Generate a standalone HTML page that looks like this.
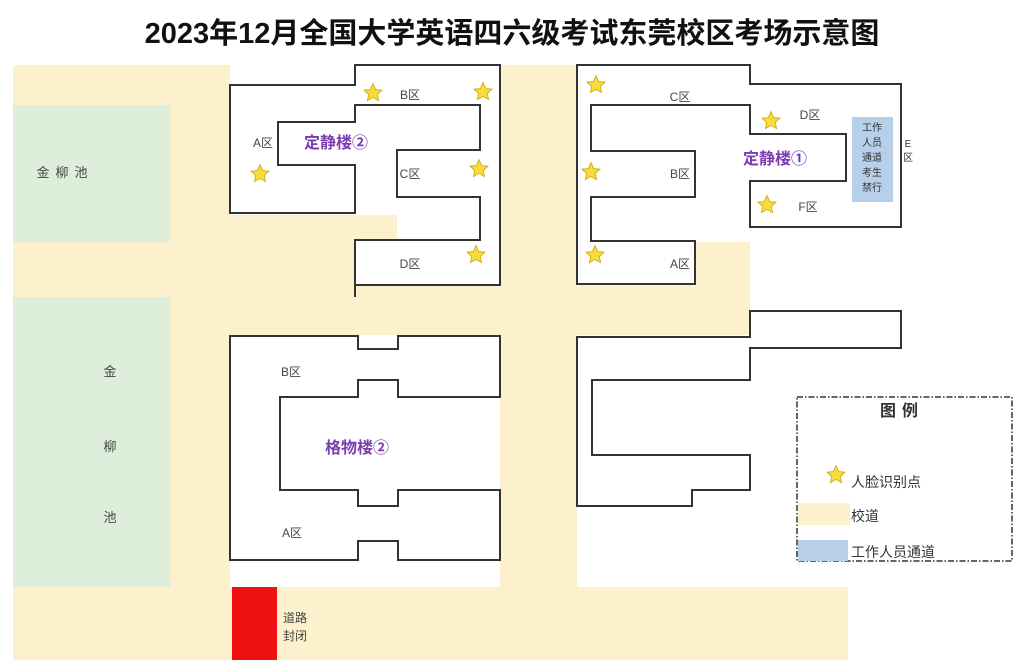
<!DOCTYPE html>
<html><head><meta charset="utf-8"><style>
html,body{margin:0;padding:0;background:#fff;}
svg{display:block;}
text{font-family:"Liberation Sans","Noto Sans CJK SC",sans-serif;}
</style></head><body>
<svg width="1024" height="667" viewBox="0 0 1024 667" xmlns="http://www.w3.org/2000/svg">
<defs>
<polygon id="st" points="0,-9.5 2.7,-3.3 9,-2.9 4.3,1.4 5.6,7.6 0,4.4 -5.6,7.6 -4.3,1.4 -9,-2.9 -2.7,-3.3" fill="#f7dc3c" stroke="#c9a800" stroke-width="0.8"/>
</defs>
<rect width="1024" height="667" fill="#fff"/>
<text x="512" y="43" font-size="29" font-weight="bold" text-anchor="middle" fill="#111">2023年12月全国大学英语四六级考试东莞校区考场示意图</text>

<rect x="13" y="65" width="835" height="595" fill="#fdf0cc"/>
<rect x="230" y="60" width="270" height="155" fill="#fff"/>
<rect x="397" y="215" width="103" height="70" fill="#fff"/>
<rect x="355" y="240" width="145" height="45" fill="#fff"/>
<rect x="577" y="60" width="447" height="182" fill="#fff"/>
<rect x="750" y="242" width="274" height="93" fill="#fff"/>
<rect x="577" y="335" width="447" height="252" fill="#fff"/>
<rect x="230" y="335" width="270" height="252" fill="#fff"/>
<rect x="848" y="587" width="176" height="80" fill="#fff"/>
<rect x="13" y="105" width="157" height="137" fill="#ddeedb"/>
<rect x="13" y="297" width="157" height="290" fill="#ddeedb"/>
<text x="65" y="177" font-size="13" text-anchor="middle" fill="#444" letter-spacing="6">金柳池</text>
<text x="110" y="376" font-size="13" text-anchor="middle" fill="#444">金</text>
<text x="110" y="451" font-size="13" text-anchor="middle" fill="#444">柳</text>
<text x="110" y="522" font-size="13" text-anchor="middle" fill="#444">池</text>

<g fill="none" stroke="#333" stroke-width="2">
<polygon fill="#fff" points="230,85 355,85 355,65 500,65 500,285 355,285 355,240 480,240 480,197 397,197 397,150 480,150 480,105 355,105 355,122 278,122 278,165 355,165 355,213 230,213"/>
<line x1="355" y1="285" x2="355" y2="297"/>
<polygon fill="#fff" points="577,65 750,65 750,84 901,84 901,227 750,227 750,181 846,181 846,134 750,134 750,105 591,105 591,151 695,151 695,197 591,197 591,241 695,241 695,284 577,284"/>
<polygon fill="#fff" points="577,337 750,337 750,311 901,311 901,348 750,348 750,380 592,380 592,455 750,455 750,490 692,490 692,506 577,506"/>
<polygon fill="#fff" points="230,336 358,336 358,349 398,349 398,336 500,336 500,397 398,397 398,380 358,380 358,397 280,397 280,490 358,490 358,506 398,506 398,490 500,490 500,560 398,560 398,541 358,541 358,560 230,560"/>
</g>

<rect x="852" y="117" width="41" height="85" fill="#b7cfe8"/>
<g font-size="10" fill="#333" text-anchor="middle">
<text x="872" y="131">工作</text><text x="872" y="146">人员</text><text x="872" y="161">通道</text><text x="872" y="176">考生</text><text x="872" y="191">禁行</text>
<text x="908" y="147">E</text><text x="908" y="161">区</text>
</g>

<g font-size="12" fill="#444" text-anchor="middle">
<text x="410" y="99">B区</text><text x="263" y="147">A区</text><text x="410" y="178">C区</text><text x="410" y="268">D区</text>
<text x="680" y="101">C区</text><text x="810" y="119">D区</text><text x="680" y="178">B区</text><text x="808" y="211">F区</text><text x="680" y="268">A区</text>
<text x="291" y="376">B区</text><text x="292" y="537">A区</text>
</g>
<g font-size="16" font-weight="bold" fill="#7a3db0" text-anchor="middle">
<text x="336" y="148">定静楼②</text>
<text x="775" y="164">定静楼①</text>
<text x="357" y="453">格物楼②</text>
</g>

<use href="#st" x="373" y="93"/><use href="#st" x="483" y="92"/><use href="#st" x="260" y="174"/><use href="#st" x="479" y="169"/><use href="#st" x="476" y="255"/>
<use href="#st" x="596" y="85"/><use href="#st" x="771" y="121"/><use href="#st" x="591" y="172"/><use href="#st" x="767" y="205"/><use href="#st" x="595" y="255"/>

<rect x="232" y="587" width="45" height="73" fill="#ee1111"/>
<text x="283" y="622" font-size="12" fill="#444">道路</text>
<text x="283" y="640" font-size="12" fill="#444">封闭</text>

<rect x="797" y="397" width="215" height="164" fill="none" stroke="#333" stroke-width="1.5" stroke-dasharray="6,2,1.5,2"/>
<text x="902" y="416" font-size="16" font-weight="bold" fill="#333" text-anchor="middle" letter-spacing="6">图例</text>
<use href="#st" x="836" y="475"/>
<text x="851" y="487" font-size="14" fill="#333">人脸识别点</text>
<rect x="798" y="503" width="52" height="22" fill="#fdf0cc"/>
<text x="851" y="521" font-size="14" fill="#333">校道</text>
<rect x="798" y="540" width="50" height="21" fill="#b7cfe8"/>
<text x="851" y="557" font-size="14" fill="#333">工作人员通道</text>
</svg>
</body></html>
